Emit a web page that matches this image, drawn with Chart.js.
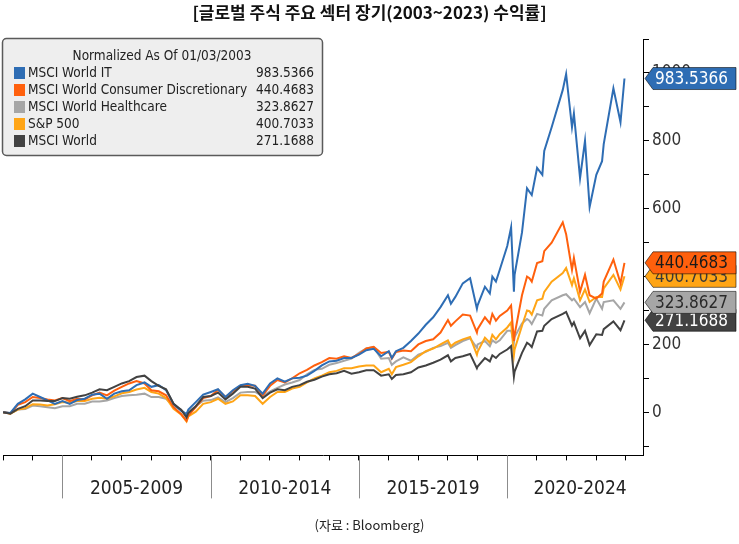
<!DOCTYPE html>
<html>
<head>
<meta charset="utf-8">
<script src="https://cdn.jsdelivr.net/npm/chart.js@4.4.1/dist/chart.umd.min.js"></script>
<style>
  html, body { margin: 0; padding: 0; background: #fff; }
</style>
</head>
<body>
<canvas id="chart" width="739" height="544"></canvas>
<script>
// Data (normalized % change since 01/03/2003)

const baseDate = '01/03/2003';

const dates = [
  '2003-01-03', '2003-04-01', '2003-07-01', '2003-10-01',
  '2004-01-02', '2004-04-01', '2004-07-01', '2004-10-01',
  '2005-01-03', '2005-04-01', '2005-07-01', '2005-10-03',
  '2006-01-03', '2006-04-03', '2006-07-03', '2006-10-02',
  '2007-01-03', '2007-04-02', '2007-07-02', '2007-10-09',
  '2008-01-02', '2008-04-01', '2008-07-01', '2008-10-01',
  '2009-01-02', '2009-03-09', '2009-04-01', '2009-07-01', '2009-10-01',
  '2010-01-04', '2010-04-01', '2010-07-01', '2010-10-01',
  '2011-01-03', '2011-04-01', '2011-07-01', '2011-10-03',
  '2012-01-03', '2012-04-02', '2012-07-02', '2012-10-01',
  '2013-01-02', '2013-04-01', '2013-07-01', '2013-10-01',
  '2014-01-02', '2014-04-01', '2014-07-01', '2014-10-01',
  '2015-01-02', '2015-04-01', '2015-07-01', '2015-10-01',
  '2016-01-04', '2016-02-11', '2016-04-01', '2016-07-01', '2016-10-03',
  '2017-01-03', '2017-04-03', '2017-07-03', '2017-10-02',
  '2018-01-02', '2018-02-08', '2018-04-02', '2018-07-02', '2018-10-01', '2018-12-24',
  '2019-01-02', '2019-04-01', '2019-05-31', '2019-07-01', '2019-08-15', '2019-10-01',
  '2020-01-02', '2020-02-19', '2020-03-23', '2020-04-01', '2020-07-01', '2020-09-02', '2020-10-01', '2020-10-30',
  '2021-01-04', '2021-03-08', '2021-04-01', '2021-07-01', '2021-11-16', '2021-12-27',
  '2022-03-08', '2022-04-01', '2022-06-16', '2022-08-16', '2022-10-12',
  '2023-01-03', '2023-03-13', '2023-04-03', '2023-07-31', '2023-10-27', '2023-12-15'
];

const itValues = [
  0, -2, 25, 38,
  55, 45, 35, 25,
  33, 25, 36, 40,
  52, 55, 40, 55,
  62, 65, 80, 88,
  75, 80, 65, 25,
  5, -5, 8, 30, 52,
  60, 68, 45, 65,
  80, 84, 78, 55,
  85, 100, 90, 100,
  102, 108, 122, 138,
  150, 152, 160, 160,
  170, 183, 187, 165,
  180, 160, 180, 190, 210,
  232, 258, 280, 310,
  345, 320, 340, 380, 395, 305,
  315, 370, 350, 400, 385, 420,
  490, 545, 355, 405, 530, 660, 650, 640,
  720, 700, 770, 840, 950, 997,
  840, 880, 690, 800, 605,
  700, 740, 790, 955, 855, 983.5366
];

const cdValues = [
  0, -3, 22, 30,
  45, 42, 38, 35,
  42, 33, 40, 38,
  50, 58, 50, 64,
  75, 85, 92, 85,
  65, 62, 50, 15,
  -5, -25, -10, 15, 42,
  48, 66, 45, 62,
  78, 80, 78, 50,
  78, 95, 88, 100,
  115, 125, 138, 148,
  160, 158, 165, 160,
  172, 188, 193, 175,
  178, 158, 178, 182, 180,
  200, 210, 215, 235,
  272, 255, 268, 288, 285, 235,
  245, 280, 262, 290, 270, 284,
  300, 315, 210, 228, 345, 400, 395, 385,
  440, 445, 475, 500, 560, 525,
  420, 455, 355, 405, 345,
  335, 350, 385, 450, 380, 440.4683
];

const hcValues = [
  0, -3, 8, 10,
  20, 18, 15, 12,
  18, 18, 25, 25,
  32, 32, 35, 42,
  48, 50, 52, 55,
  45, 45, 40, 18,
  8, -8, 2, 18, 34,
  36, 44, 30, 42,
  58, 60, 60, 48,
  62, 72, 82, 88,
  95, 112, 125, 128,
  140, 145, 152, 158,
  175, 188, 192, 158,
  160, 140, 150, 162, 152,
  170, 178, 190, 195,
  205, 190, 198, 210, 218, 190,
  200, 210, 195, 212, 205, 212,
  240, 240, 205, 222, 262, 275, 270, 260,
  290, 285, 305, 330, 345, 348,
  330, 335, 310, 325, 292,
  335, 305, 325, 330, 305, 323.8627
];

const spxValues = [
  0, -4, 8, 12,
  24, 23, 20, 24,
  30, 28, 33, 33,
  40, 43, 40, 47,
  56, 60, 67, 72,
  60, 55, 42, 10,
  -6, -27, -12, 2, 25,
  30, 40, 25, 32,
  50, 50, 48, 25,
  45, 60, 60, 70,
  75, 88, 100, 108,
  118, 122, 130, 130,
  135, 138, 138, 118,
  128, 112, 133, 140, 148,
  165, 180, 188, 200,
  212, 195, 205, 215, 222, 170,
  178, 220, 205, 228, 215, 230,
  250, 265, 168, 185, 255, 300, 298, 288,
  330, 335, 355, 385, 410, 425,
  375, 395, 330, 362, 325,
  340, 340, 365, 405, 362, 400.7033
];

const worldValues = [
  0, -4, 10, 18,
  35, 35, 33, 33,
  42, 40, 46, 50,
  58, 68, 65, 75,
  85, 92, 104, 108,
  92, 78, 68, 25,
  8, -15, -2, 18, 45,
  48, 58, 38, 55,
  75, 75, 70, 42,
  58, 68, 65, 75,
  80, 90, 96, 105,
  112, 115, 122, 114,
  118, 124, 124, 108,
  112, 98, 110, 112, 118,
  132, 138, 146, 155,
  168, 150, 160, 165, 172, 130,
  135, 160, 150, 168, 160, 172,
  185, 195, 105, 120, 175, 205, 200, 192,
  238, 240, 255, 275, 290, 296,
  255, 265, 218, 240, 198,
  230, 228, 245, 268, 242, 271.1688
];

const seriesNames = ['MSCI World IT', 'MSCI World Consumer Discretionary', 'MSCI World Healthcare', 'S&P 500', 'MSCI World'];
const seriesValues = [itValues, cdValues, hcValues, spxValues, worldValues];

const periodLabels = ['2005-2009', '2010-2014', '2015-2019', '2020-2024'];
const periodStarts = [2005, 2010, 2015, 2020];

// Styles

const colors = ['#2E6DB4', '#FF600D', '#A6A6A6', '#FFA516', '#424242'];
const flagText = ['#ffffff', '#1a1a1a', '#2a2a2a', '#3a3a3a', '#ffffff'];
const lineOrder = [1, 2, 4, 3, 0];      // world drawn on top
const flagOrder = [4, 3, 2, 1, 0];      // CD over S&P, HC over World
const condensed = "'DejaVu Sans Condensed', 'DejaVu Sans', sans-serif";

function toYear(d) {
  let p = d.split('-').map(Number);
  return p[0] + (p[1] - 1) / 12 + (p[2] - 1) / 365;
}

// Legend box, period labels, end-value flags

const decorations = {
  id: 'decorations',
  afterDraw(chart) {
    const ctx = chart.ctx;
    const area = chart.chartArea;
    const xs = chart.scales.x;
    const ys = chart.scales.y;

    // period separators and labels under the x axis
    ctx.save();
    ctx.strokeStyle = '#8c8c8c';
    ctx.lineWidth = 1;
    ctx.fillStyle = '#222';
    ctx.font = '19px ' + condensed;
    ctx.textAlign = 'center';
    ctx.textBaseline = 'middle';
    periodStarts.forEach((s, i) => {
      let x0 = xs.getPixelForValue(s);
      let x1 = Math.min(xs.getPixelForValue(s + 5), area.right + 10);
      ctx.beginPath();
      ctx.moveTo(Math.round(x0) + 0.5, area.bottom);
      ctx.lineTo(Math.round(x0) + 0.5, area.bottom + 43);
      ctx.stroke();
      ctx.fillText(periodLabels[i], (x0 + x1) / 2, area.bottom + 34);
    });
    ctx.restore();

    // flags with the last value of each series on the right axis
    ctx.save();
    ctx.font = '17px ' + condensed;
    ctx.textBaseline = 'middle';
    ctx.textAlign = 'left';
    flagOrder.forEach((k) => {
      let vals = seriesValues[k];
      let last = vals[vals.length - 1];
      let y = ys.getPixelForValue(last);
      let left = area.right + 2;
      let h = 11;
      ctx.beginPath();
      ctx.moveTo(left, y);
      ctx.lineTo(left + 8, y - h);
      ctx.lineTo(736, y - h);
      ctx.lineTo(736, y + h);
      ctx.lineTo(left + 8, y + h);
      ctx.closePath();
      ctx.fillStyle = colors[k];
      ctx.fill();
      ctx.strokeStyle = 'rgba(0,0,0,0.55)';
      ctx.lineWidth = 1;
      ctx.stroke();
      ctx.fillStyle = flagText[k];
      ctx.fillText(last.toFixed(4), left + 10, y + 1);
    });
    ctx.restore();

    // legend box
    ctx.save();
    ctx.beginPath();
    ctx.roundRect(2.5, 38.5, 320, 117, 4);
    ctx.fillStyle = '#eeeeee';
    ctx.fill();
    ctx.strokeStyle = '#5a5a5a';
    ctx.lineWidth = 1.5;
    ctx.stroke();
    ctx.font = '13.5px ' + condensed;
    ctx.fillStyle = '#222';
    ctx.textBaseline = 'middle';
    ctx.textAlign = 'center';
    ctx.fillText('Normalized As Of ' + baseDate, 162, 56);
    seriesNames.forEach((name, i) => {
      let y = 73 + i * 17;
      let vals = seriesValues[i];
      ctx.fillStyle = colors[i];
      ctx.fillRect(14, y - 6, 11, 12);
      ctx.fillStyle = '#222';
      ctx.textAlign = 'left';
      ctx.fillText(name, 28, y);
      ctx.textAlign = 'right';
      ctx.fillText(vals[vals.length - 1].toFixed(4), 314, y);
    });
    ctx.restore();
  }
};

const datasets = seriesNames.map((name, i) => ({
  label: name,
  data: seriesValues[i].map((v, j) => ({ x: toYear(dates[j]), y: v })),
  borderColor: colors[i],
  backgroundColor: colors[i],
  borderWidth: 2,
  pointRadius: 0,
  tension: 0,
  order: lineOrder[i]
}));

new Chart(document.getElementById('chart'), {
  type: 'line',
  data: { datasets: datasets },
  options: {
    responsive: false,
    animation: false,
    layout: { padding: { left: 0, right: 0, top: 0, bottom: 0 } },
    plugins: {
      legend: { display: false },
      tooltip: { enabled: false },
      title: {
        display: true,
        text: '[글로벌 주식 주요 섹터 장기(2003~2023) 수익률]',
        color: '#111',
        font: { family: "'Noto Sans CJK KR'", size: 17, weight: 'bold' },
        padding: { top: 2, bottom: 16.6 }
      },
      subtitle: {
        display: true,
        position: 'bottom',
        text: '(자료 : Bloomberg)',
        color: '#222',
        font: { family: "'Noto Sans CJK KR'", size: 13 },
        padding: { top: 12, bottom: 11 }
      }
    },
    scales: {
      x: {
        type: 'linear',
        min: 2003,
        max: 2024.58,
        grid: { drawOnChartArea: false, tickLength: 5, color: '#000' },
        border: { color: '#000', width: 1 },
        ticks: { stepSize: 1, includeBounds: false, callback: () => '' },
        afterFit: (s) => { s.height = 50; }
      },
      y: {
        position: 'right',
        min: -127,
        max: 1100,
        grid: { drawOnChartArea: false, tickLength: 6, color: '#000' },
        border: { color: '#000', width: 1 },
        ticks: {
          stepSize: 100,
          includeBounds: false,
          color: '#333',
          padding: 3,
          font: { family: condensed, size: 17 },
          callback: (v) => (v % 200 === 0 ? v : '')
        },
        afterFit: (s) => { s.width = 96; }
      }
    }
  },
  plugins: [decorations]
});
</script>
</body>
</html>
